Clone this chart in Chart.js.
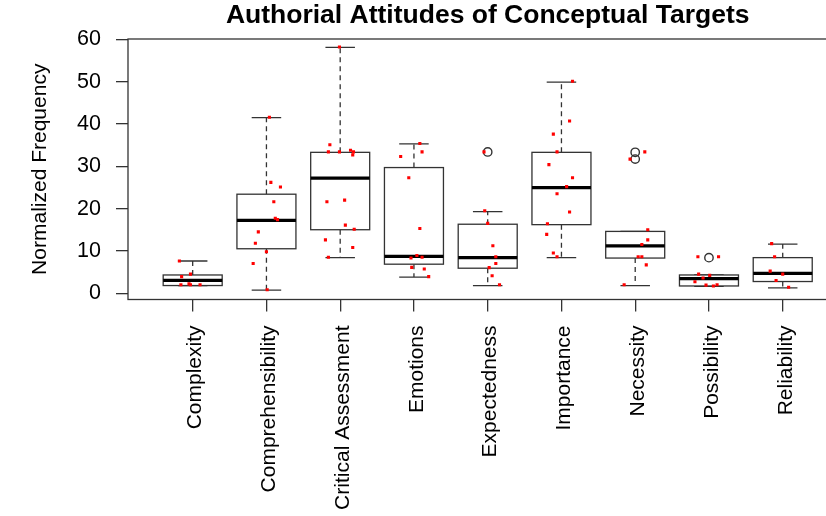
<!DOCTYPE html>
<html><head><meta charset="utf-8">
<script src="https://cdn.jsdelivr.net/npm/chart.js@4.4.0/dist/chart.umd.min.js"></script>
<style>
html,body{margin:0;padding:0;background:#fff;overflow:hidden;width:826px;height:516px}
#wrap{width:880px;height:516px}
canvas{display:block}
</style></head>
<body><div id="wrap"><canvas id="c" width="880" height="516"></canvas></div>
<script>
// ---- data ----
const chartTitle = 'Authorial Attitudes of Conceptual Targets';
const yTitle = 'Normalized Frequency';
const categories = ['Complexity','Comprehensibility','Critical Assessment','Emotions','Expectedness','Importance','Necessity','Possibility','Reliability'];
const yTicks = [0, 10, 20, 30, 40, 50, 60];

const whiskerLow  = [1.8, 0.7,  8.4, 3.8,  1.8, 8.4,  1.8, 1.6,  1.25];
const q1          = [1.8, 10.5, 15.0, 6.85, 5.9, 16.2, 8.3, 1.7,  2.75];
const median      = [3.0, 17.2, 27.2, 8.7,  8.4, 24.95, 11.2, 3.45, 4.7];
const q3          = [4.3, 23.4, 33.3, 29.7, 16.3, 33.3, 14.6, 4.3,  8.4];
const whiskerHigh = [7.6, 41.5, 58.1, 35.3, 19.3, 49.9, 14.6, 4.3,  11.6];
const outliers    = [[], [], [], [], [33.4], [], [33.3, 31.7], [8.4], []];

// jittered observations (value and horizontal jitter, in category units)
const pointValues = [
  [7.6, 3.9, 4.5, 2.0, 2.2, 2.0, 2.0],
  [41.6, 26.2, 25.1, 21.6, 17.7, 17.4, 14.5, 11.8, 9.8, 7.0, 0.8],
  [58.2, 35.1, 33.4, 33.4, 33.8, 33.4, 32.7, 21.6, 22.0, 16.1, 15.1, 12.6, 10.8, 8.5],
  [35.4, 32.3, 33.4, 27.3, 15.3, 8.9, 8.5, 8.3, 6.1, 5.7, 3.9],
  [33.4, 19.5, 16.5, 11.2, 8.6, 6.05, 7.0, 4.1, 2.0],
  [50.1, 40.7, 37.6, 33.4, 30.4, 27.3, 25.2, 23.5, 19.2, 16.4, 13.9, 9.5, 8.6],
  [33.4, 31.7, 15.0, 12.6, 11.5, 8.6, 8.6, 6.7, 2.0],
  [8.6, 8.6, 4.5, 4.2, 3.6, 2.7, 1.9, 1.7, 2.0],
  [11.7, 8.6, 5.2, 4.5, 3.0, 1.4]
];
const pointJitter = [
  [-0.18, -0.15, -0.03, -0.16, -0.05, -0.03, 0.10],
  [0.04, 0.06, 0.19, 0.10, 0.12, 0.15, -0.11, -0.15, 0.0, -0.18, 0.01],
  [-0.01, -0.14, -0.16, -0.01, 0.14, 0.18, 0.17, -0.18, 0.06, 0.07, 0.19, -0.20, 0.17, -0.16],
  [0.08, -0.18, 0.11, -0.07, 0.08, 0.04, 0.11, -0.04, -0.03, 0.14, 0.20],
  [-0.05, -0.04, 0.0, 0.07, 0.11, 0.02, 0.11, 0.06, 0.16],
  [0.15, 0.11, -0.11, -0.06, -0.17, 0.15, 0.07, -0.06, 0.11, -0.19, -0.20, -0.11, -0.06],
  [0.13, -0.07, 0.17, 0.17, 0.09, 0.04, 0.09, 0.15, -0.15],
  [-0.15, 0.13, -0.14, 0.01, -0.08, -0.19, -0.04, 0.06, 0.11],
  [-0.15, -0.11, -0.17, 0.0, -0.09, 0.08]
];

// ---- styling ----
const FONT = "'Liberation Sans', Arial, sans-serif";
const INK = '#333333';

const redPoints = pointValues.flatMap((vals, i) => vals.map((v, k) => ({x: i + pointJitter[i][k], y: v})));
const outlierPoints = outliers.flatMap((vals, i) => vals.map(v => ({x: i, y: v})));

const boxPlugin = {
  id: 'boxes',
  beforeDatasetsDraw(chart) {
    const {ctx, chartArea: a, scales: {x, y}} = chart;
    ctx.save();
    ctx.strokeStyle = INK; ctx.lineWidth = 1.3;
    ctx.strokeRect(a.left, a.top, a.right - a.left, a.bottom - a.top);
    categories.forEach((c, i) => {
      const xl = x.getPixelForValue(i - 0.4), xr = x.getPixelForValue(i + 0.4);
      const sl = x.getPixelForValue(i - 0.2), sr = x.getPixelForValue(i + 0.2);
      const xc = x.getPixelForValue(i);
      const yLo = y.getPixelForValue(whiskerLow[i]), yHi = y.getPixelForValue(whiskerHigh[i]);
      const yQ1 = y.getPixelForValue(q1[i]), yQ3 = y.getPixelForValue(q3[i]);
      const yMed = y.getPixelForValue(median[i]);
      ctx.strokeStyle = INK; ctx.lineWidth = 1.3;
      ctx.setLineDash([5, 4]);
      ctx.beginPath();
      ctx.moveTo(xc, yQ3); ctx.lineTo(xc, yHi);
      ctx.moveTo(xc, yQ1); ctx.lineTo(xc, yLo);
      ctx.stroke();
      ctx.setLineDash([]);
      ctx.beginPath();
      ctx.moveTo(sl, yHi); ctx.lineTo(sr, yHi);
      ctx.moveTo(sl, yLo); ctx.lineTo(sr, yLo);
      ctx.stroke();
      ctx.fillStyle = '#ffffff';
      ctx.fillRect(xl, yQ3, xr - xl, yQ1 - yQ3);
      ctx.strokeRect(xl, yQ3, xr - xl, yQ1 - yQ3);
      ctx.strokeStyle = '#000'; ctx.lineWidth = 3.2;
      ctx.beginPath(); ctx.moveTo(xl, yMed); ctx.lineTo(xr, yMed); ctx.stroke();
    });
    ctx.restore();
  },
  afterDraw(chart) {
    const {ctx, chartArea: a} = chart;
    ctx.save();
    ctx.fillStyle = '#000';
    ctx.font = "bold 26.5px " + FONT;
    ctx.textAlign = 'center';
    ctx.textBaseline = 'alphabetic';
    ctx.fillText(chartTitle, (a.left + a.right) / 2, 23);
    ctx.restore();
  }
};

new Chart(document.getElementById('c'), {
  type: 'scatter',
  data: {
    datasets: [
      {data: redPoints, order: 0, pointStyle: 'rect', pointRadius: 2.2, pointHoverRadius: 2.2,
       backgroundColor: '#ff0000', borderWidth: 0},
      {data: outlierPoints, order: 1, pointStyle: 'circle', pointRadius: 4.2, pointHoverRadius: 4.2,
       backgroundColor: 'rgba(0,0,0,0)', borderColor: INK, borderWidth: 1.4}
    ]
  },
  options: {
    responsive: false,
    animation: false,
    devicePixelRatio: 1,
    layout: {padding: {top: 39, left: 0, right: 32.6, bottom: 0}},
    plugins: {legend: {display: false}, tooltip: {enabled: false}, title: {display: false}},
    events: [],
    scales: {
      x: {
        type: 'linear', min: -0.877, max: 8.877,
        afterBuildTicks: s => { s.ticks = categories.map((c, i) => ({value: i})); },
        afterFit: s => { s.height = 516 - 299.5; s.paddingLeft = 0; s.paddingRight = 0; },
        grid: {display: true, drawOnChartArea: false, drawTicks: true, tickLength: 12, color: INK, lineWidth: 1.3},
        border: {display: false},
        ticks: {autoSkip: false, minRotation: 90, maxRotation: 90, padding: 14, labelOffset: 3, color: '#000',
                font: {family: FONT, size: 21}, callback: v => categories[v]}
      },
      y: {
        type: 'linear', min: -1.5, max: 60.1,
        afterBuildTicks: s => { s.ticks = yTicks.map(v => ({value: v})); },
        afterFit: s => { s.width = 128; s.paddingTop = 0; s.paddingBottom = 0; },
        grid: {display: true, drawOnChartArea: false, drawTicks: true, tickLength: 12, color: INK, lineWidth: 1.3},
        border: {display: false},
        ticks: {padding: 15, color: '#000', font: {family: FONT, size: 21.5}},
        title: {display: true, text: yTitle, color: '#000', font: {family: FONT, size: 21}, padding: {top: 28, bottom: 0}}
      }
    }
  },
  plugins: [boxPlugin]
});
</script>
</body></html>
